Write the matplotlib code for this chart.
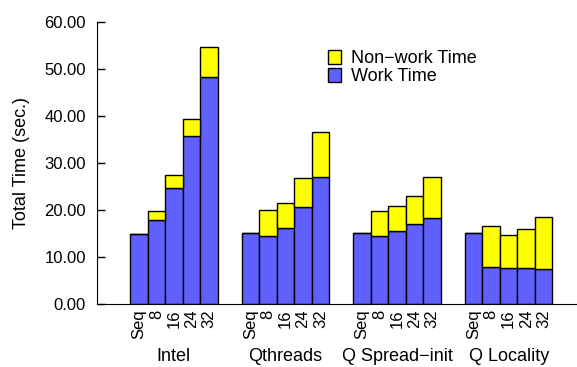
import numpy as np
import matplotlib.pyplot as plt
import matplotlib.transforms as mtransforms

plt.rcParams['font.family'] = ['Liberation Sans', 'DejaVu Sans']

# Data
groups = ["Intel", "Qthreads", "Q Spread\u2212init", "Q Locality"]
configs = ["Seq", "8", "16", "24", "32"]
work_time = [
    [14.9, 17.9, 24.6, 35.7, 48.2],
    [15.2, 14.5, 16.2, 20.7, 27.0],
    [15.2, 14.4, 15.5, 17.0, 18.2],
    [15.2, 7.9, 7.7, 7.7, 7.5],
]
total_time = [
    [14.9, 19.7, 27.4, 39.4, 54.7],
    [15.2, 19.9, 21.5, 26.9, 36.7],
    [15.2, 19.7, 20.9, 22.9, 27.1],
    [15.2, 16.7, 14.7, 16.0, 18.5],
]

work = np.array(work_time)
nonwork = np.array(total_time) - work

group_step = 6.38
x = np.array([[g * group_step + i + 0.5 for i in range(len(configs))]
              for g in range(len(groups))])

fig = plt.figure(figsize=(5.77, 3.67), dpi=100)
ax = fig.add_axes([97 / 577, 1 - 304 / 367, 480 / 577, 282 / 367])

ax.bar(x.ravel(), work.ravel(), width=1.0, color="#6060ff",
       edgecolor="black", linewidth=1.0, label="Work Time")
ax.bar(x.ravel(), nonwork.ravel(), width=1.0, bottom=work.ravel(),
       color="#ffff00", edgecolor="black", linewidth=1.0, label="Non\u2212work Time")

ax.set_xlim(-1.886, 25.54)
ax.set_ylim(0, 60)
ax.set_yticks(np.arange(0, 61, 10))
ax.set_yticklabels([f"{v:.2f}" for v in np.arange(0, 61, 10)])
ax.tick_params(axis="y", direction="in", length=6, width=1, pad=8, labelsize=12)

ax.set_xticks(x.ravel())
ax.set_xticklabels(configs * len(groups), rotation=90, fontsize=12)
ax.tick_params(axis="x", length=0, pad=4)

for side in ["top", "right"]:
    ax.spines[side].set_visible(False)
ax.spines["left"].set_bounds(0, 60)

ax.set_ylabel("Total Time (sec.)", fontsize=13)
ax.yaxis.set_label_coords(-0.14, 0.5)

# Group names under each cluster
trans = mtransforms.blended_transform_factory(ax.transData, ax.transAxes)
for g, name in enumerate(groups):
    ax.text(x[g].mean(), -0.187, name, transform=trans,
            ha="center", va="center", fontsize=13)

handles, labels = ax.get_legend_handles_labels()
ax.legend(handles[::-1], labels[::-1], loc="upper left",
          bbox_to_anchor=(0.466, 0.925), frameon=False, fontsize=13,
          handlelength=0.75, handleheight=0.75, handletextpad=0.55,
          labelspacing=0.05, borderaxespad=0)

plt.savefig("out.png", dpi=100)
